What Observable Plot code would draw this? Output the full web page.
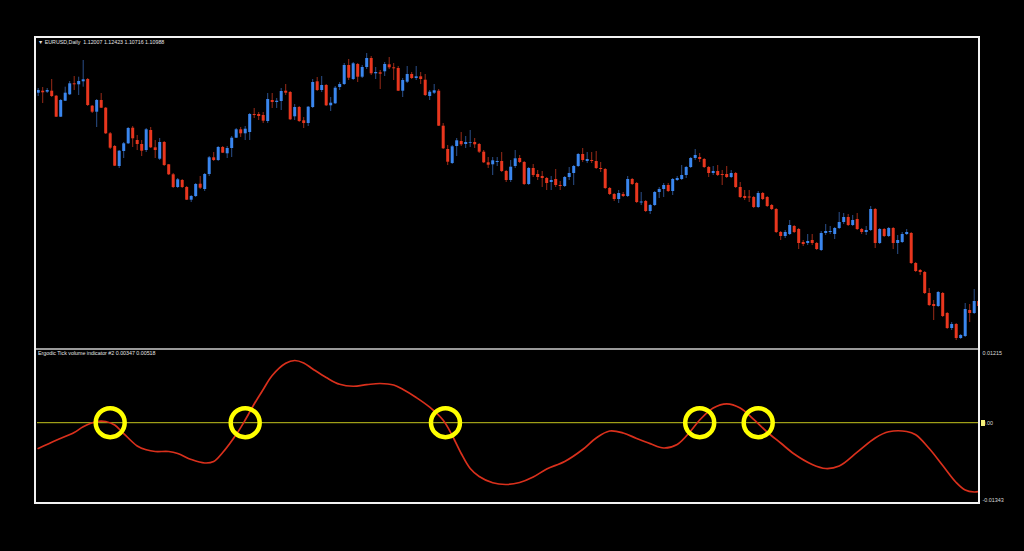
<!DOCTYPE html>
<html><head><meta charset="utf-8">
<script src="https://cdn.jsdelivr.net/npm/d3@7"></script>
<script src="https://cdn.jsdelivr.net/npm/@observablehq/plot@0.6"></script>
<style>
html,body{margin:0;padding:0;background:#000;}
#root{position:relative;width:1024px;height:551px;background:#000;overflow:hidden;font-family:"Liberation Sans",Arial,sans-serif;}
#frame{position:absolute;left:34px;top:36px;width:946px;height:468px;box-sizing:border-box;border:2.5px solid #f2f2f2;}
#divider{position:absolute;left:36px;top:348px;width:942px;height:1.5px;background:#9a9a9a;}
.lbl{position:absolute;color:#e4e4e4;font-size:5.3px;white-space:pre;line-height:1;}
#toppanel{position:absolute;left:37px;top:38px;}
#botpanel{position:absolute;left:37px;top:350px;}
#zbox{position:absolute;left:981px;top:420px;width:4px;height:6px;background:#f4f07a;}
</style>
</head><body>
<div id="root">
  <div id="toppanel"></div>
  <div id="botpanel"></div>
  <div id="divider"></div>
  <div id="frame"></div>
  <div class="lbl" style="left:38px;top:40px;">&#9660; EURUSD,Daily  1.12007 1.12423 1.10716 1.10988</div>
  <div class="lbl" style="left:38px;top:351px;">Ergodic Tick volume indicator #2 0.00347 0.00518</div>
  <div id="zbox"></div>
</div>
<script>
const opens = [1.3073,1.3093,1.3083,1.3093,1.3043,1.2833,1.2993,1.3057,1.3167,1.3157,
1.3187,1.3210,1.2943,1.2883,1.3000,1.2923,1.2667,1.2540,1.2340,1.2490,
1.2567,1.2723,1.2600,1.2560,1.2500,1.2700,1.2527,1.2413,1.2580,1.2357,
1.2257,1.2130,1.2200,1.2130,1.2003,1.2040,1.2163,1.2110,1.2260,1.2427,
1.2400,1.2530,1.2467,1.2520,1.2623,1.2707,1.2667,1.2680,1.2860,1.2860,
1.2850,1.2790,1.3000,1.2980,1.2990,1.3093,1.3080,1.2837,1.2930,1.2797,
1.2770,1.2930,1.3187,1.3100,1.3150,1.2947,1.2967,1.3130,1.3160,1.3350,
1.3210,1.3360,1.3233,1.3330,1.3420,1.3267,1.3277,1.3287,1.3357,1.3327,
1.3320,1.3093,1.3183,1.3260,1.3220,1.3237,1.3203,1.3040,1.3073,1.3093,
1.2743,1.2510,1.2370,1.2540,1.2590,1.2560,1.2570,1.2580,1.2560,1.2483,
1.2377,1.2357,1.2380,1.2390,1.2290,1.2200,1.2340,1.2420,1.2380,1.2160,
1.2320,1.2260,1.2240,1.2220,1.2180,1.2210,1.2150,1.2140,1.2230,1.2270,
1.2340,1.2460,1.2390,1.2400,1.2390,1.2320,1.2310,1.2120,1.2060,1.2010,
1.2060,1.2040,1.2210,1.2170,1.1975,1.1990,1.1890,1.1950,1.2080,1.2110,
1.2150,1.2090,1.2200,1.2210,1.2250,1.2330,1.2420,1.2430,1.2410,1.2330,
1.2270,1.2290,1.2260,1.2260,1.2230,1.2270,1.2130,1.2040,1.2035,1.2030,
1.1930,1.2070,1.2030,1.1950,1.1910,1.1680,1.1640,1.1660,1.1740,1.1710,
1.1580,1.1570,1.1600,1.1570,1.1500,1.1670,1.1680,1.1660,1.1720,1.1780,
1.1830,1.1750,1.1810,1.1710,1.1680,1.1700,1.1910,1.1570,1.1710,1.1640,
1.1720,1.1570,1.1580,1.1660,1.1670,1.1370,1.1300,1.1280,1.1070,1.0960,
1.0940,1.1070,1.0870,1.0720,1.0760,1.0620,1.0640,1.0900,1.0870,1.0990];
const highs = [1.3120,1.3130,1.3120,1.3210,1.3050,1.3010,1.3133,1.3190,1.3240,1.3233,
1.3400,1.3220,1.2950,1.3010,1.3070,1.2930,1.2680,1.2550,1.2500,1.2580,
1.2730,1.2740,1.2650,1.2600,1.2720,1.2730,1.2600,1.2620,1.2590,1.2360,
1.2270,1.2220,1.2210,1.2140,1.2050,1.2170,1.2240,1.2270,1.2440,1.2480,
1.2540,1.2540,1.2540,1.2640,1.2720,1.2730,1.2740,1.2870,1.2920,1.2880,
1.2880,1.3070,1.3070,1.3020,1.3120,1.3160,1.3090,1.2960,1.2940,1.2830,
1.2940,1.3210,1.3230,1.3240,1.3160,1.3030,1.3140,1.3180,1.3370,1.3410,
1.3380,1.3370,1.3350,1.3470,1.3440,1.3330,1.3300,1.3380,1.3430,1.3370,
1.3340,1.3220,1.3340,1.3280,1.3340,1.3280,1.3260,1.3100,1.3160,1.3110,
1.2770,1.2550,1.2550,1.2620,1.2680,1.2640,1.2700,1.2620,1.2570,1.2500,
1.2430,1.2430,1.2430,1.2480,1.2300,1.2400,1.2500,1.2450,1.2390,1.2330,
1.2360,1.2300,1.2290,1.2230,1.2240,1.2310,1.2190,1.2240,1.2330,1.2350,
1.2470,1.2520,1.2480,1.2480,1.2490,1.2380,1.2320,1.2130,1.2070,1.2100,
1.2080,1.2240,1.2220,1.2180,1.2080,1.2000,1.1960,1.2090,1.2130,1.2170,
1.2170,1.2220,1.2240,1.2350,1.2340,1.2430,1.2510,1.2470,1.2420,1.2340,
1.2340,1.2350,1.2300,1.2340,1.2300,1.2280,1.2180,1.2100,1.2100,1.2040,
1.2090,1.2080,1.2040,1.1960,1.1920,1.1690,1.1700,1.1800,1.1750,1.1720,
1.1600,1.1660,1.1660,1.1580,1.1690,1.1760,1.1740,1.1730,1.1880,1.1870,
1.1860,1.1850,1.1870,1.1720,1.1740,1.1940,1.1920,1.1720,1.1720,1.1730,
1.1730,1.1650,1.1680,1.1710,1.1680,1.1380,1.1310,1.1290,1.1120,1.1000,
1.1090,1.1080,1.0880,1.0780,1.0770,1.0660,1.0970,1.0960,1.1110,1.1040];
const lows = [1.3040,1.2970,1.3070,1.3030,1.2830,1.2830,1.2990,1.3050,1.3100,1.3050,
1.3133,1.2940,1.2870,1.2730,1.2920,1.2660,1.2510,1.2340,1.2320,1.2420,
1.2560,1.2530,1.2500,1.2440,1.2480,1.2520,1.2420,1.2400,1.2340,1.2250,
1.2120,1.2120,1.2120,1.2000,1.1980,1.2030,1.2110,1.2090,1.2240,1.2390,
1.2390,1.2470,1.2420,1.2430,1.2620,1.2630,1.2600,1.2600,1.2820,1.2800,
1.2770,1.2770,1.2920,1.2920,1.2900,1.3050,1.2800,1.2800,1.2780,1.2720,
1.2740,1.2920,1.3090,1.3080,1.2940,1.2890,1.2960,1.3100,1.3150,1.3200,
1.3200,1.3180,1.3220,1.3310,1.3250,1.3210,1.3110,1.3240,1.3310,1.3200,
1.3090,1.3030,1.3170,1.3210,1.3200,1.3160,1.3040,1.3000,1.3060,1.2740,
1.2510,1.2350,1.2360,1.2440,1.2540,1.2520,1.2530,1.2520,1.2470,1.2370,
1.2320,1.2250,1.2340,1.2280,1.2180,1.2180,1.2320,1.2370,1.2150,1.2150,
1.2230,1.2200,1.2130,1.2100,1.2100,1.2130,1.2100,1.2130,1.2200,1.2150,
1.2330,1.2380,1.2370,1.2370,1.2310,1.2280,1.2110,1.2050,1.1990,1.1970,
1.2030,1.2030,1.2150,1.1970,1.1950,1.1880,1.1860,1.1940,1.2020,1.2030,
1.2080,1.2050,1.2190,1.2200,1.2220,1.2320,1.2400,1.2380,1.2320,1.2230,
1.2250,1.2240,1.2150,1.2220,1.2220,1.2120,1.2020,1.2000,1.1980,1.1920,
1.1920,1.2000,1.1930,1.1900,1.1670,1.1600,1.1620,1.1650,1.1670,1.1510,
1.1540,1.1550,1.1550,1.1500,1.1490,1.1650,1.1660,1.1610,1.1710,1.1760,
1.1740,1.1740,1.1700,1.1660,1.1650,1.1690,1.1520,1.1560,1.1630,1.1630,
1.1510,1.1460,1.1570,1.1650,1.1360,1.1280,1.1250,1.1060,1.0940,1.0800,
1.0930,1.0830,1.0710,1.0700,1.0600,1.0610,1.0630,1.0780,1.0860,1.0920];
const closes = [1.3100,1.3077,1.3100,1.3040,1.2833,1.3000,1.3073,1.3167,1.3157,1.3190,
1.3207,1.2950,1.2883,1.3000,1.2923,1.2667,1.2523,1.2343,1.2493,1.2567,
1.2720,1.2617,1.2560,1.2493,1.2707,1.2527,1.2500,1.2580,1.2350,1.2257,
1.2130,1.2207,1.2130,1.2003,1.2040,1.2160,1.2123,1.2260,1.2427,1.2400,
1.2530,1.2473,1.2520,1.2623,1.2707,1.2667,1.2713,1.2860,1.2850,1.2840,
1.2793,1.3010,1.2980,1.2993,1.3090,1.3073,1.2807,1.2930,1.2790,1.2770,
1.2933,1.3180,1.3100,1.3150,1.2947,1.2973,1.3123,1.3160,1.3350,1.3223,
1.3367,1.3233,1.3330,1.3420,1.3267,1.3280,1.3263,1.3360,1.3327,1.3317,
1.3093,1.3200,1.3260,1.3220,1.3237,1.3210,1.3050,1.3083,1.3097,1.2743,
1.2517,1.2383,1.2537,1.2597,1.2557,1.2580,1.2577,1.2557,1.2483,1.2377,
1.2353,1.2397,1.2390,1.2290,1.2200,1.2333,1.2417,1.2380,1.2160,1.2320,
1.2250,1.2230,1.2220,1.2170,1.2200,1.2150,1.2140,1.2230,1.2270,1.2340,
1.2460,1.2400,1.2410,1.2390,1.2320,1.2310,1.2120,1.2060,1.2010,1.2070,
1.2040,1.2210,1.2160,1.1980,1.1985,1.1890,1.1950,1.2080,1.2110,1.2150,
1.2090,1.2210,1.2220,1.2250,1.2330,1.2420,1.2450,1.2410,1.2330,1.2270,
1.2290,1.2250,1.2250,1.2230,1.2270,1.2130,1.2030,1.2020,1.2025,1.1930,
1.2070,1.2010,1.1940,1.1910,1.1680,1.1640,1.1680,1.1750,1.1680,1.1570,
1.1560,1.1590,1.1570,1.1510,1.1670,1.1690,1.1690,1.1720,1.1780,1.1830,
1.1750,1.1800,1.1710,1.1680,1.1700,1.1910,1.1570,1.1710,1.1640,1.1720,
1.1570,1.1600,1.1660,1.1680,1.1370,1.1290,1.1280,1.1070,1.0950,1.0940,
1.1080,1.0840,1.0720,1.0760,1.0620,1.0650,1.0910,1.0870,1.0990,1.0940];

const indBar = [0,4,8,10,13,15,17,19,22,24,26,29,31,34,37,39,41,44,46,48,50,52,55,57,59,61,64,67,70,73,76,79,81,84,87,90,92,94,96,98,101,104,107,110,113,117,121,124,127,130,133,136,139,142,145,147,150,153,156,159,162,165,168,172,175,178,182,186,189,193,195,198,201,204,206,208,209];
const indValue = [-0.00434,-0.00296,-0.00165,-0.00069,0.00020,0.00020,-0.00040,-0.00182,-0.00392,-0.00456,-0.00485,-0.00485,-0.00518,-0.00619,-0.00678,-0.00653,-0.00502,-0.00199,0.00045,0.00315,0.00559,0.00794,0.01000,0.01047,0.01005,0.00904,0.00761,0.00646,0.00613,0.00640,0.00660,0.00634,0.00562,0.00424,0.00261,0.00040,-0.00215,-0.00518,-0.00771,-0.00905,-0.01011,-0.01040,-0.01006,-0.00914,-0.00779,-0.00653,-0.00451,-0.00257,-0.00140,-0.00173,-0.00266,-0.00353,-0.00426,-0.00367,-0.00140,0.00045,0.00247,0.00318,0.00247,0.00054,-0.00157,-0.00342,-0.00527,-0.00703,-0.00771,-0.00729,-0.00496,-0.00257,-0.00153,-0.00148,-0.00204,-0.00434,-0.00720,-0.01006,-0.01133,-0.01166,-0.01158];

const signalBars = [16, 46, 90.5, 147, 160];
const indTicks = [0.01215, 0, -0.01343];

const candles = opens.map((o, i) => ({i, o, h: highs[i], l: lows[i], c: closes[i], up: closes[i] >= o}));
const ind = indBar.map((b, k) => ({b, v: indValue[k]}));

const RED = "#e8361e", BLUE = "#3a86ee";
const RED_W = "#9a2a18", BLUE_W = "#2a4f8a";
const xScale = {type: "linear", domain: [0, 209], range: [0.7, 941.2], axis: null};

const priceChart = Plot.plot({
  width: 941, height: 310,
  marginTop: 0, marginBottom: 0, marginLeft: 0, marginRight: 0,
  style: {background: "transparent", overflow: "hidden"},
  x: xScale,
  y: {domain: [1.052, 1.362], axis: null},
  marks: [
    Plot.ruleX(candles, {x: "i", y1: "l", y2: "h", stroke: d => d.up ? BLUE_W : RED_W, strokeWidth: 1, clip: true}),
    Plot.ruleX(candles, {x: "i", y1: "o", y2: "c", stroke: d => d.up ? BLUE : RED, strokeWidth: 3, strokeLinecap: "butt", clip: true})
  ]
});
document.getElementById("toppanel").appendChild(priceChart);

const axisCommon = {anchor: "right", label: null, tickSize: 0, tickPadding: 4, fill: "#dcdcdc", fontSize: 5.4, fontFamily: "Liberation Sans, Arial, sans-serif",
  tickFormat: d => d === 0 ? "0.00" : d3.format(".5f")(d).replace("\u2212", "-")};

const indChart = Plot.plot({
  width: 987, height: 152,
  marginTop: 0, marginBottom: 0, marginLeft: 0, marginRight: 46,
  style: {background: "transparent", overflow: "visible"},
  x: xScale,
  y: {domain: [-0.01343, 0.01215], label: null},
  marks: [
    Plot.ruleY([0], {stroke: "#c4c41e", strokeWidth: 1}),
    Plot.line(ind, {x: "b", y: "v", stroke: "#d9301c", strokeWidth: 1.7, curve: "catmull-rom", clip: true}),
    Plot.dot(signalBars, {x: d => d, y: () => 0, r: 14.5, stroke: "#ffff00", strokeWidth: 4.5, fill: "none"}),
    Plot.axisY([indTicks[0]], {...axisCommon, dy: 3}),
    Plot.axisY([indTicks[1]], {...axisCommon, dy: 1}),
    Plot.axisY([indTicks[2]], {...axisCommon, dy: -2})
  ]
});
document.getElementById("botpanel").appendChild(indChart);
</script>
</body></html>
